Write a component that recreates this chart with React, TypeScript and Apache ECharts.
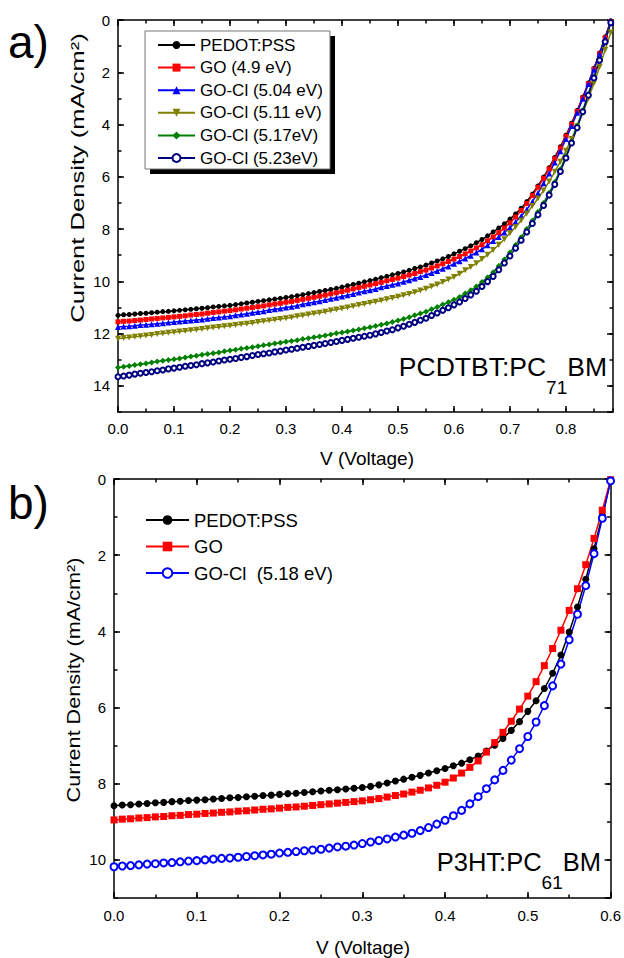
import React, { useEffect, useRef } from "react";
import * as echarts from "echarts";

const FONT = '"Liberation Sans", Arial, Helvetica, sans-serif';

// ---------- Panel a) PCDTBT:PC71BM ----------
const voltsA = [
  0.0, 0.01, 0.02, 0.03, 0.04, 0.05, 0.06, 0.07, 0.08, 0.09,
  0.1, 0.11, 0.12, 0.13, 0.14, 0.15, 0.16, 0.17, 0.18, 0.19,
  0.2, 0.21, 0.22, 0.23, 0.24, 0.25, 0.26, 0.27, 0.28, 0.29,
  0.3, 0.31, 0.32, 0.33, 0.34, 0.35, 0.36, 0.37, 0.38, 0.39,
  0.4, 0.41, 0.42, 0.43, 0.44, 0.45, 0.46, 0.47, 0.48, 0.49,
  0.5, 0.51, 0.52, 0.53, 0.54, 0.55, 0.56, 0.57, 0.58, 0.59,
  0.6, 0.61, 0.62, 0.63, 0.64, 0.65, 0.66, 0.67, 0.68, 0.69,
  0.7, 0.71, 0.72, 0.73, 0.74, 0.75, 0.76, 0.77, 0.78, 0.79,
  0.8, 0.81, 0.82, 0.83, 0.84, 0.85, 0.86, 0.87, 0.88,
];
const pedotA = [
  11.30, 11.28, 11.27, 11.25, 11.23, 11.22, 11.20, 11.18, 11.16, 11.15,
  11.13, 11.11, 11.09, 11.07, 11.05, 11.03, 11.01, 10.98, 10.96, 10.94,
  10.92, 10.89, 10.86, 10.83, 10.80, 10.77, 10.74, 10.71, 10.68, 10.65,
  10.62, 10.59, 10.55, 10.51, 10.47, 10.43, 10.39, 10.35, 10.31, 10.27,
  10.22, 10.17, 10.12, 10.07, 10.02, 9.97, 9.92, 9.86, 9.81, 9.75,
  9.70, 9.64, 9.58, 9.51, 9.45, 9.38, 9.30, 9.22, 9.14, 9.05,
  8.95, 8.85, 8.75, 8.64, 8.52, 8.40, 8.26, 8.11, 7.96, 7.80,
  7.62, 7.42, 7.20, 6.95, 6.66, 6.35, 6.01, 5.65, 5.26, 4.85,
  4.41, 3.95, 3.46, 2.95, 2.41, 1.85, 1.26, 0.65, 0.03,
];
const goA = [
  11.55, 11.53, 11.52, 11.50, 11.48, 11.46, 11.44, 11.42, 11.40, 11.38,
  11.36, 11.34, 11.32, 11.29, 11.27, 11.25, 11.22, 11.19, 11.17, 11.14,
  11.12, 11.09, 11.06, 11.03, 11.00, 10.97, 10.94, 10.90, 10.87, 10.84,
  10.80, 10.77, 10.73, 10.69, 10.65, 10.61, 10.57, 10.53, 10.48, 10.44,
  10.39, 10.34, 10.29, 10.24, 10.19, 10.14, 10.09, 10.04, 9.98, 9.93,
  9.88, 9.82, 9.76, 9.70, 9.63, 9.57, 9.49, 9.41, 9.33, 9.24,
  9.15, 9.05, 8.95, 8.84, 8.72, 8.60, 8.45, 8.30, 8.14, 7.96,
  7.76, 7.54, 7.29, 7.02, 6.72, 6.40, 6.06, 5.70, 5.31, 4.90,
  4.45, 3.99, 3.50, 2.98, 2.44, 1.88, 1.29, 0.68, 0.06,
];
const gocl504A = [
  11.75, 11.73, 11.72, 11.70, 11.67, 11.66, 11.64, 11.62, 11.60, 11.58,
  11.56, 11.54, 11.52, 11.50, 11.48, 11.46, 11.43, 11.40, 11.38, 11.36,
  11.34, 11.30, 11.27, 11.24, 11.20, 11.17, 11.14, 11.10, 11.07, 11.04,
  11.00, 10.97, 10.93, 10.88, 10.84, 10.80, 10.76, 10.71, 10.67, 10.63,
  10.58, 10.53, 10.48, 10.43, 10.38, 10.34, 10.29, 10.23, 10.18, 10.13,
  10.08, 10.02, 9.96, 9.89, 9.83, 9.76, 9.68, 9.60, 9.52, 9.43,
  9.33, 9.23, 9.13, 9.02, 8.90, 8.77, 8.62, 8.46, 8.30, 8.13,
  7.94, 7.73, 7.50, 7.25, 6.95, 6.62, 6.25, 5.87, 5.45, 5.02,
  4.55, 4.06, 3.55, 3.01, 2.45, 1.89, 1.30, 0.70, 0.10,
];
const gocl511A = [
  12.20, 12.17, 12.15, 12.12, 12.10, 12.07, 12.05, 12.02, 12.00, 11.97,
  11.95, 11.92, 11.90, 11.87, 11.85, 11.82, 11.80, 11.77, 11.75, 11.72,
  11.70, 11.67, 11.64, 11.62, 11.59, 11.56, 11.53, 11.50, 11.47, 11.44,
  11.41, 11.38, 11.34, 11.31, 11.27, 11.23, 11.20, 11.16, 11.12, 11.08,
  11.04, 11.00, 10.95, 10.91, 10.87, 10.82, 10.78, 10.73, 10.69, 10.64,
  10.59, 10.53, 10.48, 10.42, 10.35, 10.28, 10.20, 10.12, 10.03, 9.93,
  9.83, 9.71, 9.58, 9.45, 9.31, 9.15, 8.98, 8.80, 8.60, 8.39,
  8.16, 7.92, 7.67, 7.40, 7.12, 6.83, 6.52, 6.18, 5.81, 5.42,
  5.00, 4.55, 4.07, 3.56, 3.00, 2.42, 1.80, 1.15, 0.48,
];
const gocl517A = [
  13.30, 13.27, 13.24, 13.20, 13.17, 13.14, 13.11, 13.07, 13.04, 13.01,
  12.98, 12.95, 12.91, 12.88, 12.85, 12.81, 12.78, 12.75, 12.72, 12.68,
  12.65, 12.62, 12.58, 12.55, 12.52, 12.48, 12.45, 12.42, 12.38, 12.35,
  12.31, 12.28, 12.25, 12.21, 12.18, 12.14, 12.11, 12.07, 12.03, 11.99,
  11.96, 11.92, 11.88, 11.84, 11.80, 11.76, 11.71, 11.66, 11.61, 11.56,
  11.50, 11.44, 11.37, 11.30, 11.23, 11.16, 11.07, 10.98, 10.89, 10.80,
  10.70, 10.60, 10.47, 10.34, 10.20, 10.03, 9.85, 9.65, 9.41, 9.16,
  8.90, 8.61, 8.31, 8.00, 7.68, 7.35, 7.00, 6.61, 6.20, 5.71,
  5.20, 4.64, 4.05, 3.45, 2.82, 2.17, 1.50, 0.80, 0.08,
];
const gocl523A = [
  13.65, 13.62, 13.59, 13.55, 13.52, 13.49, 13.46, 13.42, 13.39, 13.35,
  13.32, 13.29, 13.25, 13.22, 13.19, 13.15, 13.12, 13.09, 13.05, 13.01,
  12.98, 12.95, 12.91, 12.88, 12.84, 12.80, 12.77, 12.74, 12.70, 12.67,
  12.63, 12.60, 12.56, 12.52, 12.49, 12.45, 12.42, 12.38, 12.34, 12.30,
  12.26, 12.22, 12.18, 12.14, 12.10, 12.06, 12.01, 11.96, 11.90, 11.85,
  11.78, 11.72, 11.64, 11.57, 11.49, 11.41, 11.31, 11.21, 11.11, 11.01,
  10.90, 10.79, 10.66, 10.52, 10.38, 10.20, 10.01, 9.81, 9.56, 9.30,
  9.03, 8.73, 8.43, 8.11, 7.79, 7.45, 7.10, 6.70, 6.29, 5.80,
  5.28, 4.71, 4.12, 3.51, 2.88, 2.22, 1.54, 0.83, 0.10,
];

// ---------- Panel b) P3HT:PC61BM ----------
const voltsB = [
  0.0, 0.01, 0.02, 0.03, 0.04, 0.05, 0.06, 0.07, 0.08, 0.09,
  0.1, 0.11, 0.12, 0.13, 0.14, 0.15, 0.16, 0.17, 0.18, 0.19,
  0.2, 0.21, 0.22, 0.23, 0.24, 0.25, 0.26, 0.27, 0.28, 0.29,
  0.3, 0.31, 0.32, 0.33, 0.34, 0.35, 0.36, 0.37, 0.38, 0.39,
  0.4, 0.41, 0.42, 0.43, 0.44, 0.45, 0.46, 0.47, 0.48, 0.49,
  0.5, 0.51, 0.52, 0.53, 0.54, 0.55, 0.56, 0.57, 0.58, 0.59,
  0.6,
];
const pedotB = [
  8.58, 8.56, 8.55, 8.53, 8.52, 8.50, 8.49, 8.47, 8.46, 8.44,
  8.43, 8.42, 8.40, 8.39, 8.37, 8.36, 8.34, 8.33, 8.31, 8.30,
  8.28, 8.26, 8.25, 8.23, 8.21, 8.19, 8.17, 8.16, 8.14, 8.12,
  8.10, 8.07, 8.03, 7.98, 7.93, 7.88, 7.83, 7.78, 7.72, 7.66,
  7.60, 7.53, 7.46, 7.37, 7.27, 7.14, 6.99, 6.81, 6.60, 6.37,
  6.10, 5.82, 5.50, 5.10, 4.62, 4.02, 3.36, 2.63, 1.83, 0.96,
  0.04,
];
const goB = [
  8.95, 8.93, 8.92, 8.90, 8.89, 8.87, 8.86, 8.84, 8.83, 8.81,
  8.80, 8.78, 8.77, 8.75, 8.74, 8.72, 8.71, 8.69, 8.67, 8.66,
  8.64, 8.62, 8.61, 8.59, 8.57, 8.55, 8.53, 8.51, 8.49, 8.47,
  8.45, 8.42, 8.39, 8.35, 8.31, 8.27, 8.22, 8.17, 8.11, 8.04,
  7.96, 7.85, 7.72, 7.57, 7.40, 7.17, 6.92, 6.65, 6.36, 6.04,
  5.70, 5.32, 4.90, 4.45, 3.97, 3.45, 2.88, 2.25, 1.56, 0.82,
  0.02,
];
const gocl518B = [
  10.18, 10.16, 10.15, 10.13, 10.11, 10.10, 10.08, 10.07, 10.05, 10.03,
  10.02, 10.00, 9.98, 9.96, 9.95, 9.93, 9.91, 9.89, 9.87, 9.85,
  9.82, 9.80, 9.78, 9.76, 9.74, 9.72, 9.69, 9.66, 9.64, 9.61,
  9.57, 9.53, 9.49, 9.45, 9.40, 9.35, 9.30, 9.23, 9.15, 9.06,
  8.96, 8.84, 8.70, 8.53, 8.34, 8.13, 7.90, 7.65, 7.38, 7.08,
  6.76, 6.38, 5.95, 5.43, 4.86, 4.22, 3.55, 2.80, 1.96, 1.03,
  0.05,
];

const namesA = [
  "PEDOT:PSS",
  "GO (4.9 eV)",
  "GO-Cl (5.04 eV)",
  "GO-Cl (5.11 eV)",
  "GO-Cl (5.17eV)",
  "GO-Cl (5.23eV)",
];
const namesB = ["PEDOT:PSS ", "GO", "GO-Cl  (5.18 eV)"];

const xMaxA = 0.884;
const yMaxA = 15;
const xMaxB = 0.6;
const yMaxB = 11;

function pairs(xs: number[], ys: number[]) {
  return xs.map((x, i) => [x, ys[i]]);
}

function mkSeries(
  name: string,
  data: number[][],
  color: string,
  symbol: string,
  size: number,
  axisIdx: number,
  extra: any = {}
) {
  return {
    type: "line",
    name,
    data,
    xAxisIndex: axisIdx,
    yAxisIndex: axisIdx,
    symbol,
    symbolSize: size,
    showSymbol: true,
    lineStyle: { color, width: 1.5 },
    itemStyle: { color },
    emphasis: { disabled: true },
    z: 3,
    ...extra,
  };
}

function xAxesFor(grid: number, max: number, showMax: boolean, fontSize: number, margin: number) {
  const common = { gridIndex: grid, type: "value", min: 0, max, splitLine: { show: false } };
  const lineOn = { show: true, onZero: false, lineStyle: { color: "#000", width: 1.5 } };
  const lineOff = { show: false, onZero: false };
  const major = { show: true, inside: true, length: 6, lineStyle: { color: "#000", width: 1.5 } };
  const minor = { show: true, inside: true, length: 3.5, lineStyle: { color: "#000", width: 1.5 } };
  return [
    {
      ...common,
      position: "bottom",
      interval: 0.1,
      axisLine: lineOn,
      axisTick: major,
      axisLabel: {
        show: true,
        color: "#000",
        fontFamily: FONT,
        fontSize,
        margin,
        showMaxLabel: showMax,
        formatter: (v: number) => v.toFixed(1),
      },
    },
    { ...common, position: "bottom", interval: 0.05, axisLine: lineOff, axisTick: minor, axisLabel: { show: false } },
    { ...common, position: "top", interval: 0.1, axisLine: lineOn, axisTick: major, axisLabel: { show: false } },
    { ...common, position: "top", interval: 0.05, axisLine: lineOff, axisTick: minor, axisLabel: { show: false } },
  ];
}

function yAxesFor(grid: number, max: number, fontSize: number, margin: number) {
  const common = { gridIndex: grid, type: "value", min: 0, max, inverse: true, splitLine: { show: false } };
  const lineOn = { show: true, onZero: false, lineStyle: { color: "#000", width: 1.5 } };
  const lineOff = { show: false, onZero: false };
  const major = { show: true, inside: true, length: 6, lineStyle: { color: "#000", width: 1.5 } };
  const minor = { show: true, inside: true, length: 3.5, lineStyle: { color: "#000", width: 1.5 } };
  return [
    {
      ...common,
      position: "left",
      interval: 2,
      axisLine: lineOn,
      axisTick: major,
      axisLabel: {
        show: true,
        color: "#000",
        fontFamily: FONT,
        fontSize,
        margin,
        showMaxLabel: false,
        formatter: (v: number) => String(v),
      },
    },
    { ...common, position: "left", interval: 1, axisLine: lineOff, axisTick: minor, axisLabel: { show: false } },
    { ...common, position: "right", interval: 2, axisLine: lineOn, axisTick: major, axisLabel: { show: false } },
    { ...common, position: "right", interval: 1, axisLine: lineOff, axisTick: minor, axisLabel: { show: false } },
  ];
}

function measure(text: string, size: number) {
  const c = document.createElement("canvas").getContext("2d");
  if (!c) return text.length * size * 0.6;
  c.font = `${size}px ${FONT}`;
  return c.measureText(text).width;
}

// Chemical label with a subscript, drawn as three real texts.
function subLabel(right: number, midY: number, main: string, sub: string, tail: string, fs: number, sfs: number, drop: number) {
  const wTail = measure(tail, fs);
  const wSub = measure(sub, sfs);
  const base = { fontFamily: FONT, fill: "#000", verticalAlign: "middle", align: "right" };
  return [
    { type: "text", z: 5, x: right, y: midY, style: { ...base, text: tail, fontSize: fs } },
    { type: "text", z: 5, x: right - wTail, y: midY + drop, style: { ...base, text: sub, fontSize: sfs } },
    { type: "text", z: 5, x: right - wTail - wSub, y: midY, style: { ...base, text: main, fontSize: fs } },
  ];
}

export default function App() {
  const ref = useRef<HTMLDivElement>(null);

  useEffect(() => {
    if (!ref.current) return;
    const chart = echarts.init(ref.current, undefined, { renderer: "svg" });

    const option: any = {
      animation: false,
      backgroundColor: "#fff",
      textStyle: { fontFamily: FONT },
      grid: [
        { left: 118, top: 20, width: 495, height: 392 },
        { left: 114, top: 479, width: 498, height: 419 },
      ],
      xAxis: [...xAxesFor(0, xMaxA, false, 15, 9), ...xAxesFor(1, xMaxB, true, 15, 10)],
      yAxis: [...yAxesFor(0, yMaxA, 15, 8), ...yAxesFor(1, yMaxB, 15, 8)],
      legend: [
        {
          data: namesA,
          orient: "vertical",
          left: 157,
          top: 36.5,
          padding: 0,
          itemWidth: 37,
          itemHeight: 10,
          itemGap: 5.6,
          selectedMode: false,
          textStyle: { fontFamily: FONT, fontSize: 17, color: "#000", lineHeight: 17 },
        },
        {
          data: namesB,
          orient: "vertical",
          left: 145,
          top: 510.5,
          padding: 0,
          itemWidth: 43,
          itemHeight: 12,
          itemGap: 7.5,
          selectedMode: false,
          formatter: (n: string) => n.replace(/\s+$/, ""),
          textStyle: { fontFamily: FONT, fontSize: 18.5, color: "#000", lineHeight: 19 },
        },
      ],
      series: [
        mkSeries(namesA[0], pairs(voltsA, pedotA), "#000000", "circle", 5, 0),
        mkSeries(namesA[1], pairs(voltsA, goA), "#ff0000", "rect", 5, 0),
        mkSeries(namesA[2], pairs(voltsA, gocl504A), "#0000ff", "triangle", 6, 0),
        mkSeries(namesA[3], pairs(voltsA, gocl511A), "#808000", "triangle", 6, 0, { symbolRotate: 180 }),
        mkSeries(namesA[4], pairs(voltsA, gocl517A), "#008000", "diamond", 6, 0),
        mkSeries(namesA[5], pairs(voltsA, gocl523A), "#000080", "emptyCircle", 5, 0, {
          itemStyle: { color: "#000080", borderWidth: 1.3 },
        }),
        mkSeries(namesB[0], pairs(voltsB, pedotB), "#000000", "circle", 7, 4),
        mkSeries(namesB[1], pairs(voltsB, goB), "#ff0000", "rect", 7, 4),
        mkSeries(namesB[2], pairs(voltsB, gocl518B), "#0000ff", "emptyCircle", 7, 4, {
          itemStyle: { color: "#0000ff", borderWidth: 1.6 },
        }),
      ],
      graphic: [
        { type: "rect", z: 1, shape: { x: 150, y: 36, width: 185, height: 138 }, style: { fill: "#000" } },
        {
          type: "rect",
          z: 2,
          shape: { x: 145, y: 31, width: 185, height: 138 },
          style: { fill: "#fff", stroke: "#777", lineWidth: 1 },
        },
        {
          type: "text",
          x: 8,
          y: 42,
          style: { text: "a)", fontSize: 46, fontFamily: FONT, fill: "#000", align: "left", verticalAlign: "middle" },
        },
        {
          type: "text",
          x: 8,
          y: 503,
          style: { text: "b)", fontSize: 46, fontFamily: FONT, fill: "#000", align: "left", verticalAlign: "middle" },
        },
        {
          type: "text",
          x: 78,
          y: 178,
          rotation: Math.PI / 2,
          scaleX: 1.42,
          style: {
            text: "Current Density (mA/cm²)",
            fontSize: 18,
            fontFamily: FONT,
            fill: "#000",
            align: "center",
            verticalAlign: "middle",
          },
        },
        {
          type: "text",
          x: 74,
          y: 680,
          rotation: Math.PI / 2,
          scaleX: 1.2,
          style: {
            text: "Current Density (mA/cm²)",
            fontSize: 18,
            fontFamily: FONT,
            fill: "#000",
            align: "center",
            verticalAlign: "middle",
          },
        },
        {
          type: "text",
          x: 367,
          y: 458,
          style: { text: "V (Voltage)", fontSize: 19, fontFamily: FONT, fill: "#000", align: "center", verticalAlign: "middle" },
        },
        {
          type: "text",
          x: 363,
          y: 947,
          style: { text: "V (Voltage)", fontSize: 19, fontFamily: FONT, fill: "#000", align: "center", verticalAlign: "middle" },
        },
        ...subLabel(607, 367, "PCDTBT:PC", "71", "BM", 26.5, 19, 20),
        ...subLabel(601, 862, "P3HT:PC", "61", "BM", 25.5, 19, 20),
      ],
    };

    chart.setOption(option);
    return () => chart.dispose();
  }, []);

  return (
    <div
      ref={ref}
      style={{ position: "absolute", left: 0, top: 0, width: 624, height: 958, background: "#fff" }}
    />
  );
}
